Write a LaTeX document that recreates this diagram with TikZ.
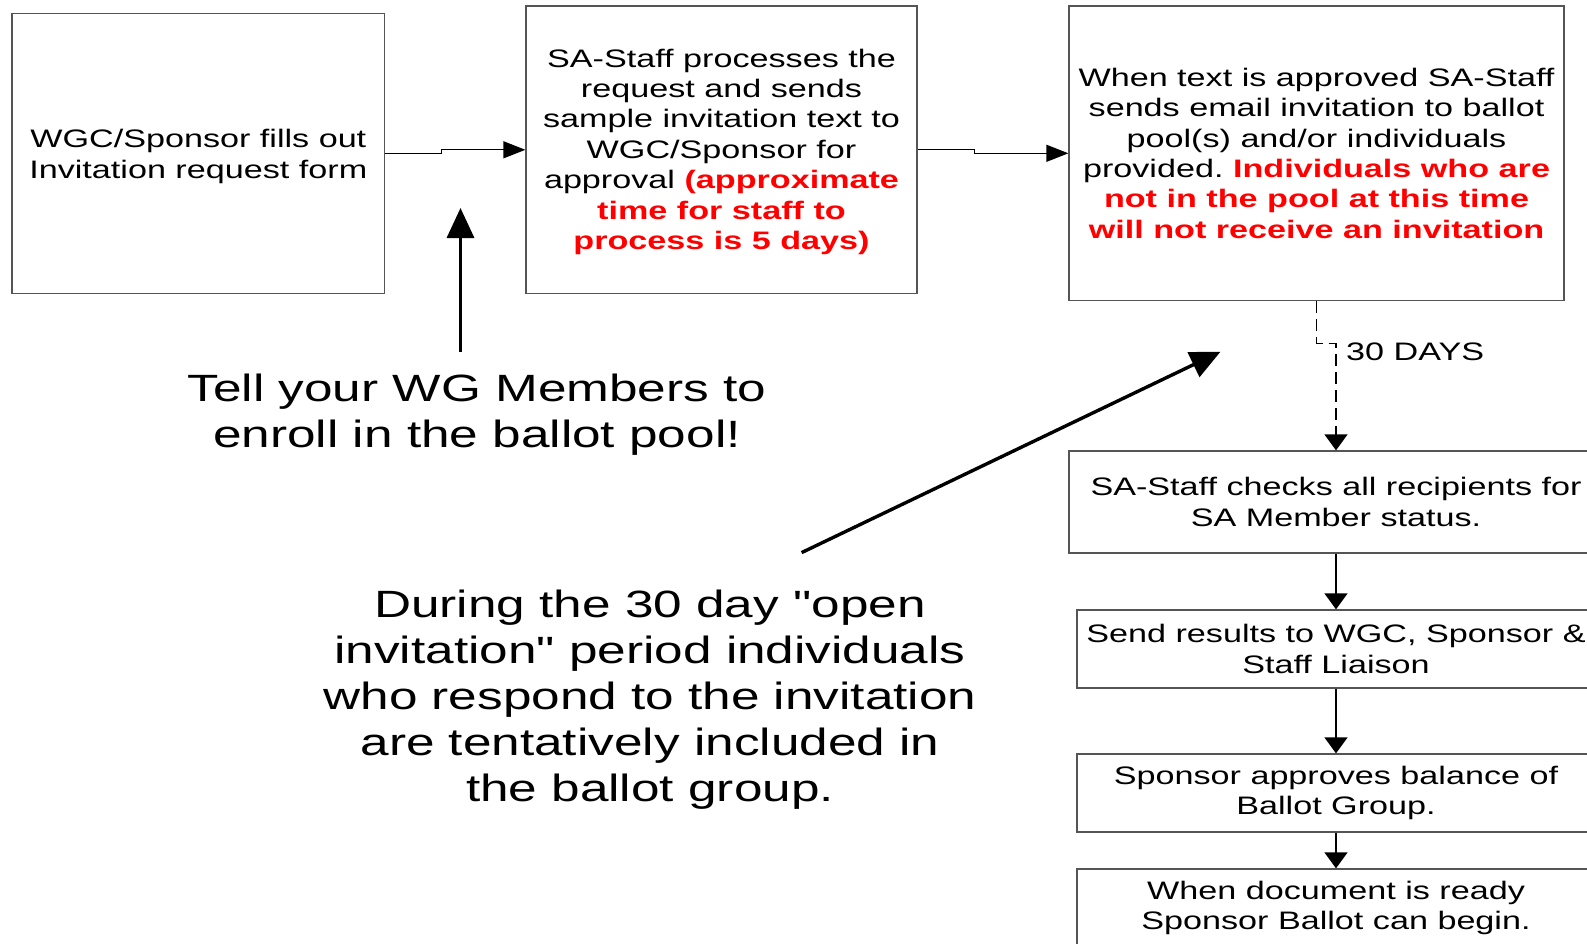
\documentclass[tikz,border=0pt]{standalone}
\usepackage{fontspec}
\setmainfont{Liberation Sans}[FakeStretch=1.35]
\newfontfamily\qfont{Liberation Sans}[FakeStretch=1.35]
\usetikzlibrary{arrows.meta}
\definecolor{boxline}{RGB}{85,85,85}
\definecolor{txtred}{RGB}{255,0,0}
\frenchspacing
\tikzset{
  procbox/.style={draw=boxline, line width=1.3pt, inner sep=0pt, align=center,
    font=\fontsize{25.3}{30.4}\selectfont},
  conn/.style={draw=black, line width=1.3pt, -{Triangle[length=22pt,width=17pt]}},
  vconn/.style={draw=black, line width=1.3pt, -{Triangle[length=16pt,width=23pt]}},
  dashconn/.style={vconn, dash pattern=on 12pt off 6pt},
  bigtext/.style={align=center, font=\fontsize{38}{46}\selectfont},
  bigarrow/.style={line width=3.4pt, -{Triangle[length=30pt,width=27pt]}},
  lbl/.style={font=\fontsize{25.3}{30.4}\selectfont, anchor=west, inner sep=0pt},
}
\newcommand{\rb}[1]{{\color{txtred}\bfseries #1}}
\newcommand{\dq}{{\qfont"}}
\newcommand{\shiftdown}[2]{\raisebox{-#1}[\height][\depth]{#2}}
\begin{document}
\begin{tikzpicture}[x=1pt,y=-1pt]
\clip (0,0) rectangle (1587,943);
\fill[white] (0,0) rectangle (1587,943);

\node[procbox, minimum width=372.5pt, minimum height=280.3pt] (b1) at (198.3,153.3)
  {\shiftdown{3pt}{\parbox{360pt}{\centering WGC/Sponsor fills out\\Invitation request form}}};
\node[procbox, minimum width=391pt, minimum height=287.5pt] (b2) at (721.5,149.8)
  {\shiftdown{2pt}{\parbox{385pt}{\centering SA-Staff processes the\\request and sends\\sample invitation text to\\WGC/Sponsor for\\approval \rb{(approximate}\\\rb{time for staff to}\\\rb{process is 5 days)}}}};
\node[procbox, minimum width=495pt, minimum height=294.6pt] (b3) at (1316.5,153.3)
  {When text is approved SA-Staff\\sends email invitation to ballot\\pool(s) and/or individuals\\provided. \rb{Individuals who are}\\\rb{not in the pool at this time}\\\rb{will not receive an invitation}};
\node[procbox, minimum width=534pt, minimum height=102pt] (b4) at (1336,502)
  {SA-Staff checks all recipients for\\SA Member status.};
\node[procbox, minimum width=518pt, minimum height=78pt] (b5) at (1336,649)
  {Send results to WGC, Sponsor \&\\Staff Liaison};
\node[procbox, minimum width=518pt, minimum height=78pt] (b6) at (1336,793)
  {Sponsor approves balance of\\Ballot Group.};
\node[procbox, minimum width=518pt, minimum height=78pt] (b7) at (1336,908)
  {When document is ready\\Sponsor Ballot can begin.};

\draw[conn] (b1.east) -- ++(56,0) |- (b2.west);
\draw[conn] (b2.east) -- ++(57,0) |- (b3.west);
\draw[dashconn] (b3.south) -- ++(0,42) -| (b4.north);
\node[lbl] (days) at (1346,352) {30 DAYS};
\draw[vconn] (b4.south) -- (b5.north);
\draw[vconn] (b5.south) -- (b6.north);
\draw[vconn] (b6.south) -- (b7.north);

\node[bigtext] (tell) at (477,415) {Tell your WG Members to\\enroll in the ballot pool!};
\node[bigtext] (during) at (650,700) {During the 30 day \dq open\\invitation\dq{} period individuals\\who respond to the invitation\\are tentatively included in\\the ballot group.};

\coordinate (upS) at (460.5,352);
\coordinate (upE) at (460.5,208);
\draw[bigarrow] (upS) -- (upE);
\coordinate (dgS) at (801.6,552.6);
\coordinate (dgE) at (1220.5,351.7);
\draw[bigarrow] (dgS) -- (dgE);
\end{tikzpicture}
\end{document}
